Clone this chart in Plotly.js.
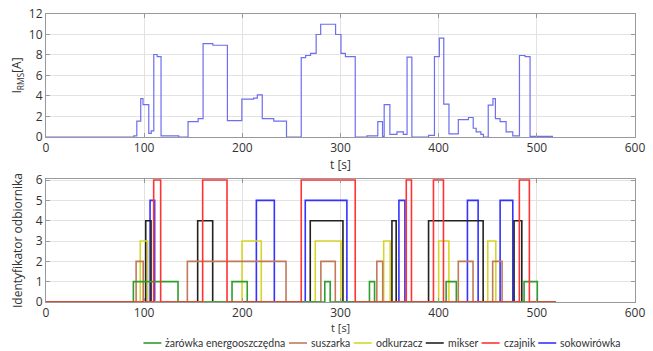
<!DOCTYPE html>
<html>
<head>
<meta charset="utf-8">
<script src="https://cdn.plot.ly/plotly-3.0.1.min.js"></script>
<style>html,body{margin:0;padding:0;background:#fff;}#chart{width:653px;height:351px;}</style>
</head>
<body>
<div id="chart"></div>
<script>
// Top chart: RMS current (step series)
const tCurrent = [0, 89.4, 92.5, 96.5, 98.8, 104.7, 107.2, 109.8, 113.2, 117.2, 135.2, 144.7, 155, 160, 170, 184.8, 199.5, 211.5, 215.3, 220.3, 232, 245, 260, 264.5, 269.5, 275.2, 279.8, 295, 300.5, 305, 315, 327, 338, 342.8, 344.5, 350.3, 357.5, 364, 367.8, 372.7, 389.7, 395.7, 400.7, 405.2, 410.5, 420, 430.3, 435.2, 438.2, 443, 445.6, 450.5, 455.3, 457.8, 462.6, 468.7, 475.5, 482.3, 488, 493.1, 516.5];
const iRms = [0, 0.1, 1.55, 3.75, 3.15, 0.35, 0.6, 8.05, 7.85, 0.1, 0, 1.5, 1.8, 9.1, 8.95, 1.6, 3.7, 3.8, 4.1, 1.8, 1.55, 0, 7.75, 7.95, 8.15, 10.0, 11.0, 10.0, 8.15, 7.85, 0, 0.1, 1.5, 0.05, 3.15, 0.25, 0.5, 0.25, 7.8, 0, 0.15, 7.85, 9.65, 3.2, 0.3, 1.7, 1.9, 0.85, 0.5, 0.25, 0, 3.1, 3.75, 1.8, 1.5, 0.5, 0.1, 7.95, 7.85, 0.05, 0.05];

// Bottom chart: device identifiers, on/off times
const deviceNames = ["żarówka energooszczędna", "suszarka", "odkurzacz", "mikser", "czajnik", "sokowirówka"];
const deviceIds = [1, 2, 3, 4, 6, 5];
const deviceColors = ["#2e9e2e", "#c07a5a", "#d6d62a", "#222222", "#ff3333", "#3333ff"];
const zarowkaOn  = [89, 189.5, 284, 329.5, 407.6, 487];
const zarowkaOff = [134.5, 205, 289.5, 334.7, 418, 500.5];
const suszarkaOn  = [91.8, 144, 280, 337, 420, 455];
const suszarkaOff = [99, 244.5, 294.7, 343, 435, 464.6];
const odkurzaczOn  = [96, 199.7, 274.3, 344, 400, 450];
const odkurzaczOff = [103.6, 219.3, 300.4, 350.6, 410.4, 458.2];
const mikserOn  = [101.6, 154.5, 269.2, 352.4, 389.7, 476.8];
const mikserOff = [107, 169.8, 302.5, 356.7, 445.3, 484.7];
const czajnikOn  = [109.7, 159.6, 260, 367, 394.7, 482.2];
const czajnikOff = [116.8, 184.4, 315, 372.3, 404.9, 492.4];
const sokowirowkaOn  = [106, 214.3, 264.1, 359.5, 429.3, 462.6];
const sokowirowkaOff = [110.7, 232.6, 306.5, 365.6, 440.2, 475.5];
const tEnd = 519;

const onTimes = [zarowkaOn, suszarkaOn, odkurzaczOn, mikserOn, czajnikOn, sokowirowkaOn];
const offTimes = [zarowkaOff, suszarkaOff, odkurzaczOff, mikserOff, czajnikOff, sokowirowkaOff];

const xTicks = [0, 100, 200, 300, 400, 500, 600];
const xTitle = 't [s]';

const traces = [{
  x: tCurrent, y: iRms, type: 'scatter', mode: 'lines',
  line: {shape: 'hv', color: '#6e6ef0', width: 1.2},
  xaxis: 'x', yaxis: 'y', showlegend: false, hoverinfo: 'x+y'
}];

// draw order: others first, red (czajnik) on top
const drawOrder = [5, 3, 2, 1, 0, 4];
drawOrder.forEach(k => {
  const xs = [0], ys = [0];
  onTimes[k].forEach((on, j) => {
    xs.push(on); ys.push(deviceIds[k]);
    xs.push(offTimes[k][j]); ys.push(0);
  });
  xs.push(tEnd); ys.push(0);
  traces.push({
    x: xs, y: ys, type: 'scatter', mode: 'lines', name: deviceNames[k],
    line: {shape: 'hv', color: deviceColors[k], width: 1.6},
    xaxis: 'x2', yaxis: 'y2', showlegend: false
  });
});

// ---- compact legend (line sample + label), placed below the lower axis ----
const W = 653, H = 351, ML = 45.5, MR = 18, MT = 14, MB = 49;
const PW = W - ML - MR, PH = H - MT - MB;
const legFontFamily = 'Lato';
const legFontSize = 10.5;
const ctx = document.createElement('canvas').getContext('2d');
ctx.font = legFontSize + 'px ' + legFontFamily;
const sampleLen = 18, sampleGap = 3, itemGap = 4.5, legY = 343, legStart = 143;
const shapes = [], annotations = [];
let cx = legStart;
deviceNames.forEach((name, k) => {
  const yp = (MT + PH - legY) / PH;
  shapes.push({type: 'line', xref: 'paper', yref: 'paper',
    x0: (cx - ML) / PW, x1: (cx + sampleLen - ML) / PW, y0: yp, y1: yp,
    line: {color: deviceColors[k], width: 1.6}});
  cx += sampleLen + sampleGap;
  annotations.push({xref: 'paper', yref: 'paper', x: (cx - ML) / PW, y: yp,
    xanchor: 'left', yanchor: 'middle', showarrow: false, text: name,
    borderpad: 0,
    font: {family: legFontFamily, size: legFontSize, color: '#333'}});
  cx += ctx.measureText(name).width + itemGap;
});
// lower x-axis title (kept between tick labels and the legend row)
annotations.push({xref: 'x2 domain', yref: 'paper', x: 0.5, y: (MT + PH - 327) / PH,
  xanchor: 'center', yanchor: 'middle', showarrow: false, text: xTitle, borderpad: 0,
  font: {family: 'Open Sans, sans-serif', size: 11, color: '#333'}});

const axCommon = {
  showline: true, linecolor: '#999', linewidth: 1, mirror: 'ticks',
  ticks: 'inside', ticklen: 4, tickcolor: '#999',
  showgrid: true, gridcolor: '#e2e2e2', gridwidth: 1, zeroline: false,
  tickfont: {family: 'Open Sans, sans-serif', size: 12, color: '#333'}
};

const layout = {
  width: W, height: H,
  margin: {l: ML, r: MR, t: MT, b: MB},
  paper_bgcolor: '#fff', plot_bgcolor: '#fff',
  font: {family: 'Open Sans, sans-serif', size: 12, color: '#333'},
  xaxis: Object.assign({}, axCommon, {
    domain: [0, 1], range: [0, 600], tickvals: xTicks, anchor: 'y',
    title: {text: xTitle, font: {size: 12, color: '#333'}, standoff: 2}
  }),
  yaxis: Object.assign({}, axCommon, {
    domain: [0.573, 1], range: [0, 12], dtick: 2, anchor: 'x',
    title: {text: 'I<sub>RMS</sub>[A]', font: {size: 12, color: '#333'}, standoff: 4}
  }),
  xaxis2: Object.assign({}, axCommon, {
    domain: [0, 1], range: [0, 600], tickvals: xTicks, anchor: 'y2'
  }),
  yaxis2: Object.assign({}, axCommon, {
    domain: [0, 0.427], range: [0, 6.05], dtick: 1, anchor: 'x2',
    title: {text: 'Identyfikator odbiornika', font: {size: 12, color: '#333'}, standoff: 10}
  }),
  shapes: shapes,
  annotations: annotations,
  showlegend: false
};

Plotly.newPlot('chart', traces, layout, {displayModeBar: false, staticPlot: true});
</script>
</body>
</html>
